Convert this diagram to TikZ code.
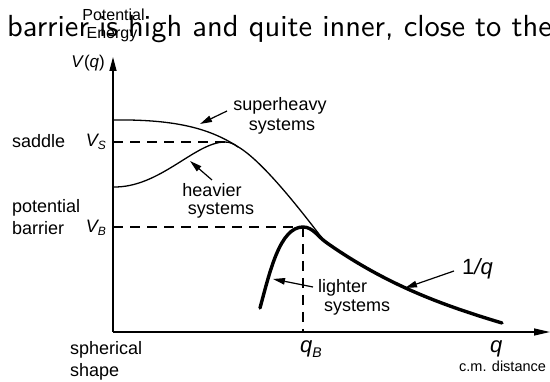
\documentclass[tikz,border=0pt]{standalone}
\usepackage{fontspec}
\setmainfont{Liberation Sans}
\newfontfamily\lmsten[Extension=.otf]{lmsans10-regular}
\usetikzlibrary{arrows.meta}
\begin{document}
\begin{tikzpicture}[x=1pt,y=-1pt,
  lbl/.style={inner sep=0pt,font=\fontsize{18}{20}\selectfont},
  big/.style={inner sep=0pt,font=\fontsize{22}{24}\selectfont},
  axisline/.style={line width=1.4pt},
  thincurve/.style={line width=1.3pt},
  thickcurve/.style={line width=3.4pt,line cap=round},
  dashline/.style={line width=1.2pt,dash pattern=on 10pt off 7pt},
  ptr/.style={line width=1.2pt,-{Triangle[length=12pt,width=6.5pt]}}
]
\useasboundingbox (0,0) rectangle (550,382);

% sentence fragment on top
\begin{scope}
\clip (0,0) rectangle (550,382);
\node[anchor=base west,inner sep=0pt,font=\lmsten\fontsize{30.5}{32}\selectfont] (sent) at (7,37) {barrier is high and quite inner, close to the};
\end{scope}

% axes
\coordinate (O) at (113,332);
\coordinate (ytop) at (113,57);
\coordinate (xend) at (550,332);
\draw[axisline,-{Triangle[length=14pt,width=7pt]}] (O) -- (ytop);
\draw[axisline,-{Triangle[length=16pt,width=7pt]}] (O) -- (xend);

% dashed guides
\coordinate (vs0) at (113,142);
\coordinate (vs1) at (226,142);
\coordinate (vb0) at (113,227);
\coordinate (peak) at (303,227);
\coordinate (qb) at (303,332);
\draw[dashline] (vs0) -- (vs1);
\draw[dashline] (vb0) -- (peak);
\draw[dashline] (peak) -- (qb);

% superheavy curve
\coordinate (sh0) at (113,120);
\coordinate (sh1) at (240,148);
\coordinate (sh2) at (322,238);
\draw[thincurve] (sh0) .. controls (185,119) and (215,132) .. (sh1)
  .. controls (265,164) and (302,212) .. (sh2);

% heavier curve
\coordinate (hv0) at (113,187);
\coordinate (hv1) at (225,142);
\coordinate (hv2) at (238,147);
\draw[thincurve] (hv0) .. controls (160,188) and (195,142) .. (hv1)
  .. controls (230,142) and (234,144) .. (hv2);

% lighter systems (thick) curve
\coordinate (lt0) at (260,308);
\coordinate (lt1) at (327,243);
\coordinate (lt2) at (502,323);
\draw[thickcurve] (lt0) .. controls (270,271) and (280,227) .. (peak)
  .. controls (313,227) and (318,237) .. (lt1)
  .. controls (387,285) and (442,305) .. (lt2);

% labels
\node[anchor=base,inner sep=0pt,font=\fontsize{16}{17}\selectfont] (pot) at (113.5,21) {Potential};
\node[anchor=base,inner sep=0pt,font=\fontsize{16}{17}\selectfont] (ene) at (112,39) {Energy};
\node[anchor=base east,inner sep=0pt,font=\fontsize{17}{18}\selectfont] (vq) at (105,68) {\textit{V}(\textit{q})};

\node[lbl,anchor=base west] (saddle) at (12,148) {saddle};
\node[lbl,anchor=base east] (VS) at (106,147) {\textit{V}\kern-1.5pt\raisebox{-0.3ex}{\fontsize{12}{12}\selectfont\textit{S}}};
\node[lbl,anchor=base west] (potl) at (12,213) {potential};
\node[lbl,anchor=base west] (barr) at (12,235) {barrier};
\node[lbl,anchor=base east] (VB) at (106,233) {\textit{V}\kern-1.5pt\raisebox{-0.3ex}{\fontsize{12}{12}\selectfont\textit{B}}};

\node[lbl,anchor=base] (sh) at (280,111) {superheavy};
\node[lbl,anchor=base] (shs) at (282,131) {systems};
\node[lbl,anchor=base] (hv) at (212,197) {heavier};
\node[lbl,anchor=base] (hvs) at (221,215) {systems};
\node[lbl,anchor=base west] (lt) at (318,293) {lighter};
\node[lbl,anchor=base west] (lts) at (324,312) {systems};
\node[big,anchor=base west] (invq) at (462,275) {1\textit{/q}};

\node[big,anchor=base west] (qB) at (300,353) {\textit{q}\raisebox{-0.35ex}{\fontsize{14}{14}\selectfont\textit{B}}};
\node[big,anchor=base west] (q) at (490,353) {\textit{q}};
\node[anchor=base west,inner sep=0pt,font=\fontsize{14.5}{15}\selectfont] (cm) at (459,372) {c.m. distance};
\node[lbl,anchor=base west] (sph) at (70,355) {spherical};
\node[lbl,anchor=base west] (shp) at (70,377) {shape};

% pointers
\coordinate (p1a) at (227,111);
\coordinate (p1b) at (200,124);
\coordinate (p2a) at (212,180);
\coordinate (p2b) at (190,161);
\coordinate (p3a) at (313,287);
\coordinate (p3b) at (273,279);
\coordinate (p4a) at (454,271);
\coordinate (p4b) at (405,288);
\draw[ptr] (p1a) -- (p1b);
\draw[ptr] (p2a) -- (p2b);
\draw[ptr] (p3a) -- (p3b);
\draw[ptr] (p4a) -- (p4b);
\end{tikzpicture}
\end{document}
